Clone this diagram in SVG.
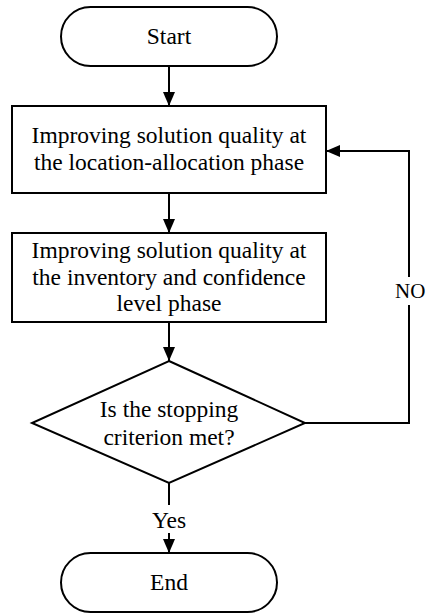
<svg xmlns="http://www.w3.org/2000/svg" width="426" height="613" viewBox="0 0 426 613">
  <style>
    .shape { fill: #ffffff; stroke: #000000; stroke-width: 2; }
    .edge { fill: none; stroke: #000000; stroke-width: 2; }
    .label { font-family: "Liberation Serif", "Times New Roman", serif; font-size: 23.5px; fill: #000000; text-anchor: middle; }
    .small { font-size: 21px; text-anchor: start; }
  </style>
  <defs>
    <marker id="arrow" viewBox="0 0 14 12" refX="14" refY="6" markerWidth="14" markerHeight="12" markerUnits="userSpaceOnUse" orient="auto">
      <path d="M0,0 L14,6 L0,12 Z" fill="#000000"/>
    </marker>
  </defs>

  <g id="connectors">
    <line class="edge" x1="169" y1="66" x2="169" y2="106" marker-end="url(#arrow)"/>
    <line class="edge" x1="169" y1="193" x2="169" y2="233" marker-end="url(#arrow)"/>
    <line class="edge" x1="169" y1="322" x2="169" y2="361" marker-end="url(#arrow)"/>
    <line class="edge" x1="169" y1="483" x2="169" y2="505"/>
    <line class="edge" x1="169" y1="533" x2="169" y2="553" marker-end="url(#arrow)"/>
    <polyline class="edge" points="305,423 409,423 409,151 326,151" marker-end="url(#arrow)"/>
    <rect x="392" y="277" width="34" height="28" fill="#ffffff"/>
    <text class="label small" x="395" y="298">NO</text>
    <text class="label" x="169" y="528">Yes</text>
  </g>

  <g id="start">
    <rect class="shape" x="61" y="7" width="216" height="59" rx="29.5" ry="29.5"/>
    <text class="label" x="169" y="44">Start</text>
  </g>

  <g id="location-allocation">
    <rect class="shape" x="12" y="106" width="314" height="87"/>
    <text class="label" x="169" y="143">Improving solution quality at</text>
    <text class="label" x="169" y="170">the location-allocation phase</text>
  </g>

  <g id="inventory-confidence">
    <rect class="shape" x="12" y="233" width="314" height="89"/>
    <text class="label" x="169" y="258">Improving solution quality at</text>
    <text class="label" x="169" y="285">the inventory and confidence</text>
    <text class="label" x="169" y="311">level phase</text>
  </g>

  <g id="stopping-check">
    <polygon class="shape" points="169,361 305,423 169,483 32,423"/>
    <text class="label" x="169" y="417">Is the stopping</text>
    <text class="label" x="169" y="445">criterion met?</text>
  </g>

  <g id="end">
    <rect class="shape" x="61" y="553" width="216" height="59" rx="29.5" ry="29.5"/>
    <text class="label" x="169" y="590">End</text>
  </g>
</svg>
